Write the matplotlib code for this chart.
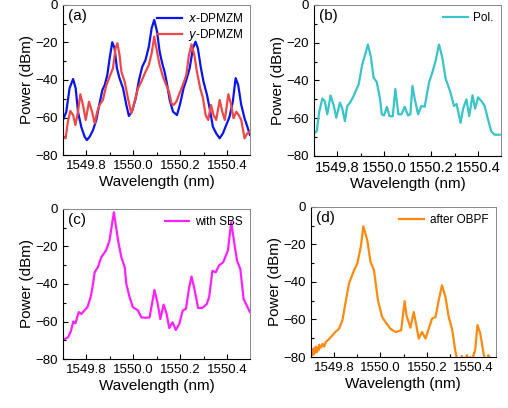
import numpy as np
import matplotlib.pyplot as plt
from matplotlib.ticker import MultipleLocator

plt.rcParams['font.family'] = ['Liberation Sans', 'DejaVu Sans']

# ---- panel (a): x-DPMZM / y-DPMZM ----
a_x_wl = [1549.700, 1549.714, 1549.728, 1549.743, 1549.754, 1549.764, 1549.778, 1549.792,
          1549.802, 1549.814, 1549.828, 1549.842, 1549.856, 1549.868, 1549.878, 1549.889,
          1549.899, 1549.910, 1549.920, 1549.930, 1549.941, 1549.956, 1549.970, 1549.981,
          1549.995, 1550.010, 1550.024, 1550.038, 1550.052, 1550.066, 1550.078, 1550.089,
          1550.101, 1550.112, 1550.123, 1550.133, 1550.143, 1550.155, 1550.169, 1550.186,
          1550.200, 1550.214, 1550.228, 1550.240, 1550.254, 1550.265, 1550.275, 1550.287,
          1550.299, 1550.314, 1550.328, 1550.339, 1550.353, 1550.368, 1550.382, 1550.396,
          1550.410, 1550.424, 1550.436, 1550.447, 1550.460, 1550.474, 1550.486, 1550.497]
a_x_db = [-61.3, -57, -44.4, -39.5, -44.4, -57, -65, -70.2, -72, -70.2, -66.7, -61.3,
          -52.4, -45.3, -42.7, -37.3, -28.4, -19.9, -23.1, -33.8, -39.1, -44.4, -53.3, -59.2,
          -56.5, -49.8, -40, -32.9, -29.3, -22.2, -12.4, -8, -14.2, -24.9, -31.1, -35.6,
          -41.8, -50.7, -56.9, -58.7, -52.4, -44.4, -39.1, -33.8, -23.1, -19.6, -23.1, -32.9,
          -40.9, -48, -56.9, -64.9, -68.4, -71.1, -68.4, -64, -59.6, -51.6, -39, -42.7,
          -53.3, -60.4, -64.9, -69.3]
a_y_wl = [1549.700, 1549.711, 1549.721, 1549.731, 1549.743, 1549.753, 1549.764, 1549.774,
          1549.785, 1549.797, 1549.811, 1549.824, 1549.835, 1549.846, 1549.856, 1549.870,
          1549.885, 1549.899, 1549.913, 1549.924, 1549.932, 1549.941, 1549.949, 1549.963,
          1549.977, 1549.991, 1550.005, 1550.020, 1550.034, 1550.052, 1550.066, 1550.078,
          1550.089, 1550.101, 1550.112, 1550.126, 1550.140, 1550.152, 1550.162, 1550.172,
          1550.183, 1550.197, 1550.211, 1550.226, 1550.237, 1550.248, 1550.260, 1550.271,
          1550.285, 1550.297, 1550.308, 1550.319, 1550.331, 1550.342, 1550.353, 1550.368,
          1550.379, 1550.390, 1550.405, 1550.417, 1550.427, 1550.439, 1550.449, 1550.460,
          1550.474, 1550.486, 1550.497]
a_y_db = [-70.2, -71.1, -62.2, -56.5, -58.7, -64, -56.9, -47.6, -53.3, -61.3, -51.6, -56.9,
          -63.1, -56.9, -53.3, -50.7, -42.7, -38.2, -33.8, -23.1, -20.4, -26.7, -35.6, -40.9,
          -49.8, -57.8, -51.6, -44.4, -40.9, -35.6, -32, -25.8, -16.9, -24.9, -32, -38.2,
          -42.7, -46.2, -52.4, -53.3, -51.6, -47.1, -42.7, -37.3, -26.7, -21, -26.7, -35.6,
          -44.4, -49.8, -58.7, -61.3, -53.3, -58.7, -61.3, -50.7, -56.9, -61.3, -47.6, -53.3,
          -60.4, -56.9, -58.7, -61.3, -71.1, -68.4, -67.6]

# ---- panel (b): Pol. ----
b_wl = [1549.701, 1549.712, 1549.722, 1549.736, 1549.746, 1549.757, 1549.771, 1549.785,
        1549.795, 1549.811, 1549.821, 1549.832, 1549.842, 1549.856, 1549.870, 1549.891,
        1549.905, 1549.919, 1549.930, 1549.943, 1549.954, 1549.968, 1549.982, 1549.989,
        1549.999, 1550.011, 1550.022, 1550.036, 1550.047, 1550.060, 1550.073, 1550.087,
        1550.101, 1550.111, 1550.120, 1550.130, 1550.144, 1550.158, 1550.172, 1550.183,
        1550.191, 1550.205, 1550.219, 1550.233, 1550.247, 1550.261, 1550.280, 1550.297,
        1550.308, 1550.325, 1550.336, 1550.350, 1550.362, 1550.376, 1550.387, 1550.400,
        1550.414, 1550.428, 1550.442, 1550.456, 1550.470, 1550.492]
b_db = [-67.9, -67, -57, -49.6, -51, -58, -48, -53.6, -59.8, -51.8, -55, -61.6, -53.6,
        -51.4, -48, -42, -32, -26, -21, -27.7, -38.4, -41, -50, -58, -58.6, -54, -59, -59,
        -44.6, -58, -58, -54, -58.6, -58, -42.9, -50, -58, -53.6, -54, -46.4, -41, -35.7,
        -29.5, -21, -27.7, -39, -45.5, -53.6, -52.5, -62.5, -55, -50, -59, -47.9, -55, -49,
        -51, -53.6, -60.7, -67, -68.8, -68.8]

# ---- panel (c): with SBS ----
c_wl = [1549.708, 1549.722, 1549.734, 1549.744, 1549.753, 1549.767, 1549.778, 1549.792,
        1549.804, 1549.818, 1549.828, 1549.835, 1549.849, 1549.863, 1549.884, 1549.898,
        1549.917, 1549.935, 1549.949, 1549.963, 1549.970, 1549.984, 1549.998, 1550.019,
        1550.034, 1550.055, 1550.069, 1550.090, 1550.104, 1550.115, 1550.129, 1550.142,
        1550.153, 1550.167, 1550.181, 1550.196, 1550.210, 1550.224, 1550.238, 1550.248,
        1550.262, 1550.276, 1550.294, 1550.313, 1550.323, 1550.337, 1550.351, 1550.365,
        1550.383, 1550.403, 1550.417, 1550.431, 1550.442, 1550.456, 1550.470, 1550.497]
c_db = [-69.3, -68.4, -65, -60, -61, -55, -56, -54, -52.4, -47, -40, -33.8, -31, -25.8,
        -22, -17, -1.8, -17, -25.8, -31, -40, -47, -52.4, -54, -57.8, -58, -57.8, -43.2,
        -50.7, -58.7, -51, -56, -63.5, -60.4, -64.5, -61.3, -54.2, -53.3, -41.8, -36, -43.6,
        -52.8, -52.8, -50.7, -47, -33, -33.8, -30.2, -28.4, -22.2, -7.1, -18.7, -27.6, -32,
        -48, -55]

# ---- panel (d): after OBPF ----
d_wl = [1549.700, 1549.704, 1549.707, 1549.711, 1549.714, 1549.718, 1549.721, 1549.725,
        1549.729, 1549.733, 1549.736, 1549.743, 1549.750, 1549.757, 1549.764, 1549.778,
        1549.793, 1549.807, 1549.821, 1549.836, 1549.846, 1549.864, 1549.886, 1549.900,
        1549.915, 1549.926, 1549.943, 1549.957, 1549.972, 1549.989, 1550.007, 1550.021,
        1550.043, 1550.065, 1550.089, 1550.104, 1550.112, 1550.129, 1550.143, 1550.153,
        1550.165, 1550.179, 1550.194, 1550.208, 1550.222, 1550.237, 1550.251, 1550.265,
        1550.280, 1550.294, 1550.308, 1550.315, 1550.322, 1550.330, 1550.337, 1550.344,
        1550.351, 1550.358, 1550.365, 1550.372, 1550.379, 1550.386, 1550.394, 1550.401,
        1550.408, 1550.418, 1550.430, 1550.444, 1550.451, 1550.458, 1550.465, 1550.473,
        1550.480, 1550.496]
d_db = [-78, -76.5, -79, -75.5, -78.5, -76, -74.5, -77.5, -75, -76.5, -73.5, -75, -73,
        -74.5, -72, -70.5, -68.4, -66.5, -65, -60.4, -53.3, -40.9, -33.8, -30.2, -21.3,
        -10.3, -17.8, -29.3, -33.8, -49.8, -58.7, -61.3, -65, -66.7, -65.8, -50.2, -57.8,
        -64.4, -56, -62.2, -70.2, -66.7, -70.2, -64.9, -59.6, -58.7, -49.8, -41.8, -48,
        -58.7, -64.9, -70.5, -76.4, -81, -82, -83, -79.5, -82, -84, -79, -82, -80, -83,
        -79, -76.4, -63, -67.5, -78, -82, -83, -79, -81, -83, -83]

panels = [
    ([0.124, 0.620, 0.368, 0.368], '(a)',
     [(a_x_wl, a_x_db, '#0a14f0', r'$x$-DPMZM'), (a_y_wl, a_y_db, '#f04848', r'$y$-DPMZM')]),
    ([0.618, 0.618, 0.368, 0.370], '(b)', [(b_wl, b_db, '#38c4c8', 'Pol.')]),
    ([0.124, 0.120, 0.368, 0.368], '(c)', [(c_wl, c_db, '#ff20ff', 'with SBS')]),
    ([0.612, 0.125, 0.364, 0.368], '(d)', [(d_wl, d_db, '#ff8a10', 'after OBPF')]),
]

fig = plt.figure(figsize=(5.08, 4.08), dpi=100)
for rect, tag, series in panels:
    ax = fig.add_axes(rect)
    for wl, db, col, lab in series:
        ax.plot(wl, db, color=col, lw=1.6, label=lab, solid_joinstyle='round')
    ax.set_xlim(1549.70, 1550.497)
    ax.set_ylim(-80, 0)
    ax.set_yticks([-80, -60, -40, -20, 0])
    ax.xaxis.set_major_locator(MultipleLocator(0.2))
    ax.xaxis.set_minor_locator(MultipleLocator(0.1))
    ax.yaxis.set_minor_locator(MultipleLocator(10))
    ax.xaxis.set_major_formatter(plt.FuncFormatter(lambda v, p: f'{v:.1f}'))
    ax.tick_params(which='both', direction='in', labelsize=9.5, top=False, right=False)
    ax.tick_params(which='major', length=3.5, width=0.8)
    ax.tick_params(which='minor', length=2, width=0.8)
    if tag == '(b)':
        ax.tick_params(axis='x', labelsize=10.5)
    for s in ['top', 'right']:
        ax.spines[s].set_color('#888888')
        ax.spines[s].set_linewidth(0.7)
    ax.set_xlabel('Wavelength (nm)', fontsize=11, labelpad=2)
    ax.set_ylabel('Power (dBm)', fontsize=11, labelpad=1)
    ax.text(0.025, 0.975, tag, transform=ax.transAxes, fontsize=11, va='top', ha='left')
    ax.legend(loc='upper right', frameon=False, fontsize=8.5, handlelength=2.1,
              handletextpad=0.5, borderaxespad=0.2, labelspacing=0.2)

fig.savefig('out.png', dpi=100)
